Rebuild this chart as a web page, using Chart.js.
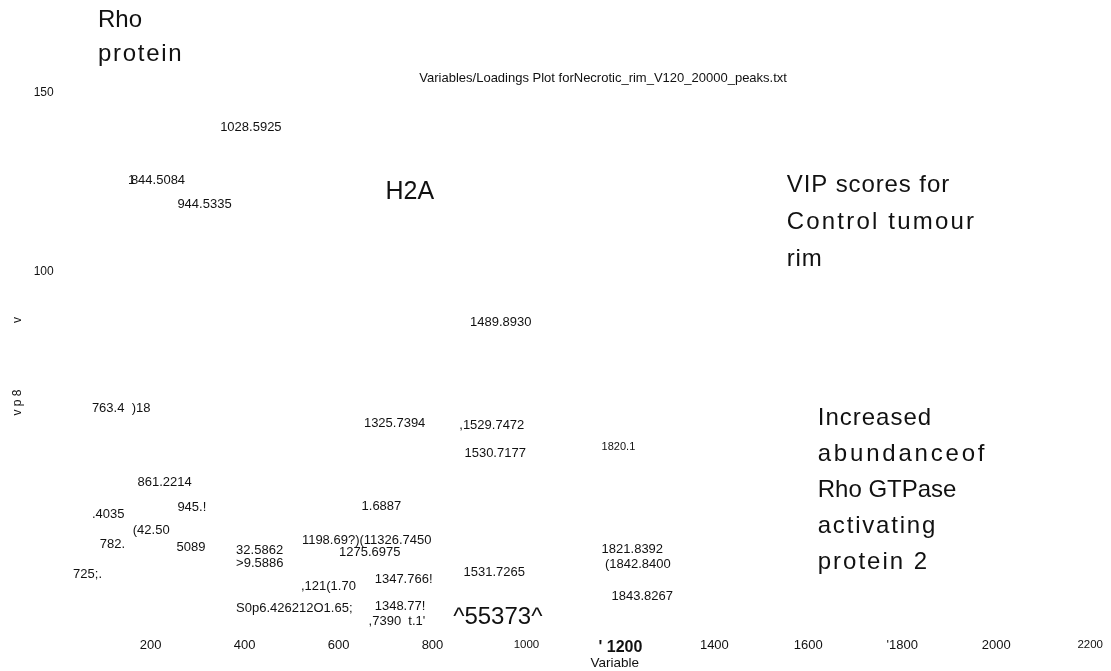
<!DOCTYPE html>
<html>
<head>
<meta charset="utf-8">
<title>VIP scores</title>
<script src="https://cdn.jsdelivr.net/npm/chart.js@4.4.1/dist/chart.umd.min.js"></script>
<style>
	html, body { margin: 0; padding: 0; background: #fff; }
</style>
</head>
<body>
<canvas id="vip_chart" width="1111" height="671"></canvas>
<script>
// peaks as printed on the loadings plot: label, position on the variable axis, VIP value
var peakLabels = ['1028.5925', '1', '844.5084', '944.5335', '1489.8930', '763.4  )18', '1325.7394', ',1529.7472',
	'1530.7177', '1820.1', '861.2214', '.4035', '945.!', '1.6887', '(42.50', '782.', '5089',
	'1198.69?)(11326.7450', '1275.6975', '32.5862', '>9.5886', '1821.8392', '(1842.8400', '1531.7265',
	'725;.', '1347.766!', ',121(1.70', '1843.8267', '1348.77!', 'S0p6.426212O1.65;', ",7390  t.1'"];
var peakVariable = [348, 152, 158, 257, 880, 75, 654, 857,
	868, 1160, 172, 75, 257, 649, 162, 92, 255,
	522, 601, 382, 382, 1160, 1167, 866,
	35, 677, 520, 1181, 677, 382, 664];
var peakVip = [140.5, 125.7, 125.7, 119.0, 86.0, 62.0, 57.8, 57.1,
	49.4, 51.1, 41.3, 32.4, 34.1, 34.4, 27.7, 24.0, 23.2,
	25.1, 21.8, 22.1, 18.7, 22.6, 18.4, 16.2,
	15.6, 14.0, 12.3, 9.5, 6.7, 5.9, 2.5];

var xTicks = [200, 400, 600, 800, 1000, 1200, 1400, 1600, 1800, 2000, 2200];
var xTickLabels = ['200', '400', '600', '800', '1000', "' 1200", '1400', '1600', "'1800", '2000', '2200'];
var yTicks = [100, 150];
var yTickLabels = ['100', '150'];

// hand written notes on the plot
var noteText = [['Rho', 'protein'], ['H2A'], ['VIP scores for', 'Control tumour', 'rim'],
	['Increased', 'abundanceof', 'Rho GTPase', 'activating', 'protein 2'], ['^55373^']];
var noteVariable = [88, 700, 1554, 1620, 844];
var noteVip = [170.4, 122.3, 124.2, 59.2, 3.6];

var chartTitle = 'Variables/Loadings Plot forNecrotic_rim_V120_20000_peaks.txt';

// styling
var FONT = '"Liberation Sans", Arial, sans-serif';
var INK = '#111';
var smallLabels = ['1820.1'];
var smallTicks = [1000, 2200];
var noteSize = 24;
var noteStep = [34, 0, 37, 36, 0];
var noteLetterSpacing = {'protein': 1.7, 'Control tumour': 2.2, 'abundanceof': 2.8, 'activating': 1.8,
	'protein 2': 2, 'Increased': 1, 'VIP scores for': 0.9, 'rim': 0.9};
var titlePos = {x: 772, y: 154.2};

var peakLabelPlugin = {
	id: 'peakLabels',
	afterDatasetsDraw: function(chart) {
		var ctx = chart.ctx;
		var meta = chart.getDatasetMeta(0);
		ctx.save();
		ctx.fillStyle = INK;
		ctx.textAlign = 'left';
		ctx.textBaseline = 'middle';
		meta.data.forEach(function(pt, ix) {
			var size = smallLabels.indexOf(peakLabels[ix]) >= 0 ? 11 : 13;
			ctx.font = size + 'px ' + FONT;
			ctx.fillText(peakLabels[ix], pt.x, pt.y);
		});
		ctx.restore();
	}
};

var notesPlugin = {
	id: 'notes',
	afterDraw: function(chart) {
		var ctx = chart.ctx;
		var xs = chart.scales.x, ys = chart.scales.y;
		ctx.save();
		ctx.fillStyle = INK;
		ctx.textAlign = 'left';
		ctx.textBaseline = 'middle';

		ctx.font = '13px ' + FONT;
		ctx.fillText(chartTitle, xs.getPixelForValue(titlePos.x), ys.getPixelForValue(titlePos.y));

		for (var ix in noteText) {
			var px = xs.getPixelForValue(noteVariable[ix]);
			var py = ys.getPixelForValue(noteVip[ix]);
			ctx.font = (noteText[ix][0] == 'H2A' ? 25 : noteSize) + 'px ' + FONT;
			noteText[ix].forEach(function(line, l) {
				ctx.letterSpacing = (noteLetterSpacing[line] || 0) + 'px';
				ctx.fillText(line, px, py + l * noteStep[ix]);
			});
		}
		ctx.letterSpacing = '0px';
		ctx.restore();
	}
};

var points = peakVariable.map(function(v, ix) {
	return {x: v, y: peakVip[ix]};
});

new Chart(document.getElementById('vip_chart'), {
	type: 'scatter',
	data: {
		datasets: [{
			data: points,
			pointRadius: 0,
			pointHoverRadius: 0,
			showLine: false
		}]
	},
	options: {
		responsive: false,
		animation: false,
		devicePixelRatio: 1,
		layout: {
			padding: {top: 85.8, right: 16.5, bottom: 0, left: 0}
		},
		plugins: {
			legend: {display: false},
			tooltip: {enabled: false}
		},
		scales: {
			x: {
				type: 'linear',
				min: 0,
				max: 2200,
				grid: {display: false, drawTicks: false},
				border: {display: false},
				afterBuildTicks: function(scale) {
					scale.ticks = xTicks.map(function(v) { return {value: v}; });
				},
				afterFit: function(scale) {
					scale.height = 41;
				},
				ticks: {
					padding: 8,
					color: INK,
					autoSkip: false,
					maxRotation: 0,
					font: function(c) {
						var v = c.tick ? c.tick.value : 0;
						if (v == 1200) return {family: FONT, size: 16, weight: 'bold'};
						return {family: FONT, size: smallTicks.indexOf(v) >= 0 ? 11.5 : 13};
					},
					callback: function(value) {
						return xTickLabels[xTicks.indexOf(value)];
					}
				},
				title: {
					display: true,
					text: ' '.repeat(22) + 'Variable',
					color: INK,
					font: {family: FONT, size: 13.5},
					padding: {top: 0, bottom: 0}
				}
			},
			y: {
				type: 'linear',
				min: 0,
				max: 152,
				grid: {display: false, drawTicks: false},
				border: {display: false},
				afterBuildTicks: function(scale) {
					scale.ticks = yTicks.map(function(v) { return {value: v}; });
				},
				afterFit: function(scale) {
					scale.width = 56.65;
				},
				ticks: {
					padding: 3,
					color: INK,
					font: {family: FONT, size: 12},
					callback: function(value) {
						return yTickLabels[yTicks.indexOf(value)];
					}
				},
				title: {
					display: true,
					text: 'v p 8' + ' '.repeat(20) + 'v' + ' '.repeat(5),
					color: INK,
					font: {family: FONT, size: 12},
					padding: {top: 10, bottom: 0}
				}
			}
		}
	},
	plugins: [peakLabelPlugin, notesPlugin]
});
</script>
</body>
</html>
